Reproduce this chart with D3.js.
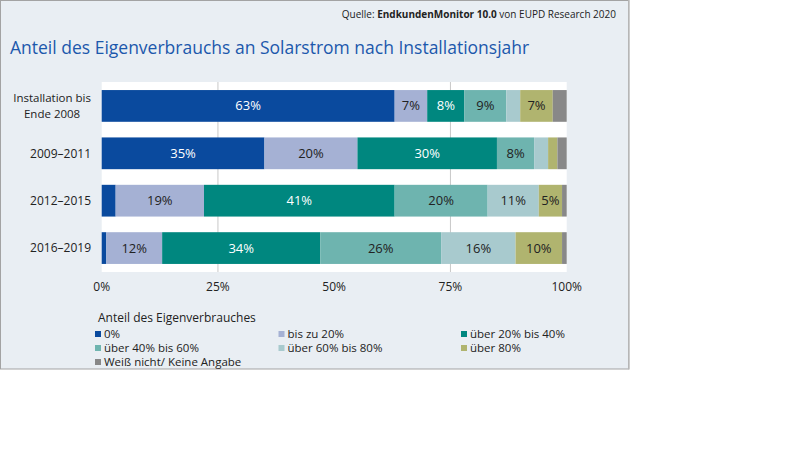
<!DOCTYPE html>
<html><head><meta charset="utf-8">
<script src="https://cdn.jsdelivr.net/npm/d3@7"></script>
<style>body{margin:0;background:#fff;} svg{display:block;} text{font-family:"Open Sans",sans-serif;}</style>
</head><body>
<svg id="c" width="800" height="472"></svg>
<script>
const categories = [["Installation bis","Ende 2008"],["2009–2011"],["2012–2015"],["2016–2019"]];
const seriesNames = ["0%","bis zu 20%","über 20% bis 40%","über 40% bis 60%","über 60% bis 80%","über 80%","Weiß nicht/ Keine Angabe"];
const seriesColors = ["#0a4a9e","#a5b1d4","#00877f","#6eb4af","#a8cace","#b0b46f","#888888"];
const labelColors = ["#ffffff","#222222","#ffffff","#222222","#222222","#222222","#222222"];
const v0 = [63,35,3,1];
const v1 = [7,20,19,12];
const v2 = [8,30,41,34];
const v3 = [9,8,20,26];
const v4 = [3,3,11,16];
const v5 = [7,2,5,10];
const v6 = [3,2,1,1];
const seriesValues = [v0,v1,v2,v3,v4,v5,v6];
const xTicks = [0,25,50,75,100];
const gridTicks = [25,75];
const title = "Anteil des Eigenverbrauchs an Solarstrom nach Installationsjahr";
const legendTitle = "Anteil des Eigenverbrauches";

const svg = d3.select("#c");
svg.append("rect").attr("x",0.5).attr("y",0.5).attr("width",628).attr("height",368.5)
  .attr("fill","#e9eef3").attr("stroke","#a3a3a3").attr("stroke-width",1);
svg.append("line").attr("x1",629).attr("x2",629).attr("y1",0).attr("y2",369.5).attr("stroke","#bdbdbd").attr("stroke-width",1.5);

// source
const src = svg.append("text").attr("x",616).attr("y",18).attr("text-anchor","end")
  .attr("font-size",10).attr("fill","#222");
src.append("tspan").text("Quelle: ");
src.append("tspan").attr("font-weight","bold").text("EndkundenMonitor 10.0");
src.append("tspan").text(" von EUPD Research 2020");

svg.append("text").attr("x",10).attr("y",54).attr("font-size",17.5).attr("fill","#1c58ac").text(title);

const x = d3.scaleLinear().domain([0,100]).range([101.7,566.7]);
const y = d3.scaleBand().domain(d3.range(categories.length)).range([82,272]).paddingInner(0.33).paddingOuter(0.17);

svg.append("rect").attr("x",x(0)).attr("y",82).attr("width",x(100)-x(0)).attr("height",190).attr("fill","#ffffff");
svg.selectAll(".grid").data(gridTicks).enter().append("line")
  .attr("x1",d=>x(d)).attr("x2",d=>x(d)).attr("y1",82).attr("y2",272)
  .attr("stroke","#c8c8c8").attr("stroke-width",1);

const stackData = categories.map((c,i)=>{const o={i}; seriesNames.forEach((s,k)=>o[k]=seriesValues[k][i]); return o;});
const stack = d3.stack().keys(d3.range(seriesNames.length))(stackData);

const g = svg.append("g");
stack.forEach((layer,k)=>{
  layer.forEach((d,i)=>{
    g.append("rect").attr("x",x(d[0])).attr("y",y(i)).attr("width",x(d[1])-x(d[0])).attr("height",y.bandwidth())
      .attr("fill",seriesColors[k]);
    const val = d[1]-d[0];
    if (val>=5) {
      g.append("text").attr("x",(x(d[0])+x(d[1]))/2).attr("y",y(i)+y.bandwidth()/2).attr("dy","0.35em")
        .attr("text-anchor","middle").attr("font-size",13).attr("fill",labelColors[k]).text(val+"%");
    }
  });
});

// category labels
categories.forEach((lines,i)=>{
  const cy = y(i)+y.bandwidth()/2;
  const n = lines.length;
  const fs = n>1 ? 11.5 : 12;
  const nodes = lines.map((l,j)=> svg.append("text").attr("font-size",fs).attr("fill","#222")
      .attr("y",cy+(j-(n-1)/2)*16).attr("dy","0.35em").attr("text-anchor","middle").text(l).node());
  const maxW = Math.max(...nodes.map(s=>s.getComputedTextLength()));
  const center = 91 - maxW/2;
  nodes.forEach(s=>s.setAttribute("x",center));
});

// x axis tick labels
svg.selectAll(".xt").data(xTicks).enter().append("text")
  .attr("x",d=>x(d)).attr("y",291).attr("text-anchor","middle").attr("font-size",12).attr("fill","#222")
  .text(d=>d+"%");

// legend
svg.append("text").attr("x",98).attr("y",322).attr("font-size",12).attr("fill","#222").text(legendTitle);
const colX = [95,278.5,461];
const rowY = [334,348,362];
seriesNames.forEach((s,k)=>{
  const cx = colX[k%3], cy = rowY[Math.floor(k/3)];
  svg.append("rect").attr("x",cx).attr("y",cy-3).attr("width",6).attr("height",6).attr("fill",seriesColors[k]);
  svg.append("text").attr("x",cx+9).attr("y",cy).attr("dy","0.35em").attr("font-size",11.5).attr("fill","#222").text(s);
});
</script>
</body></html>
